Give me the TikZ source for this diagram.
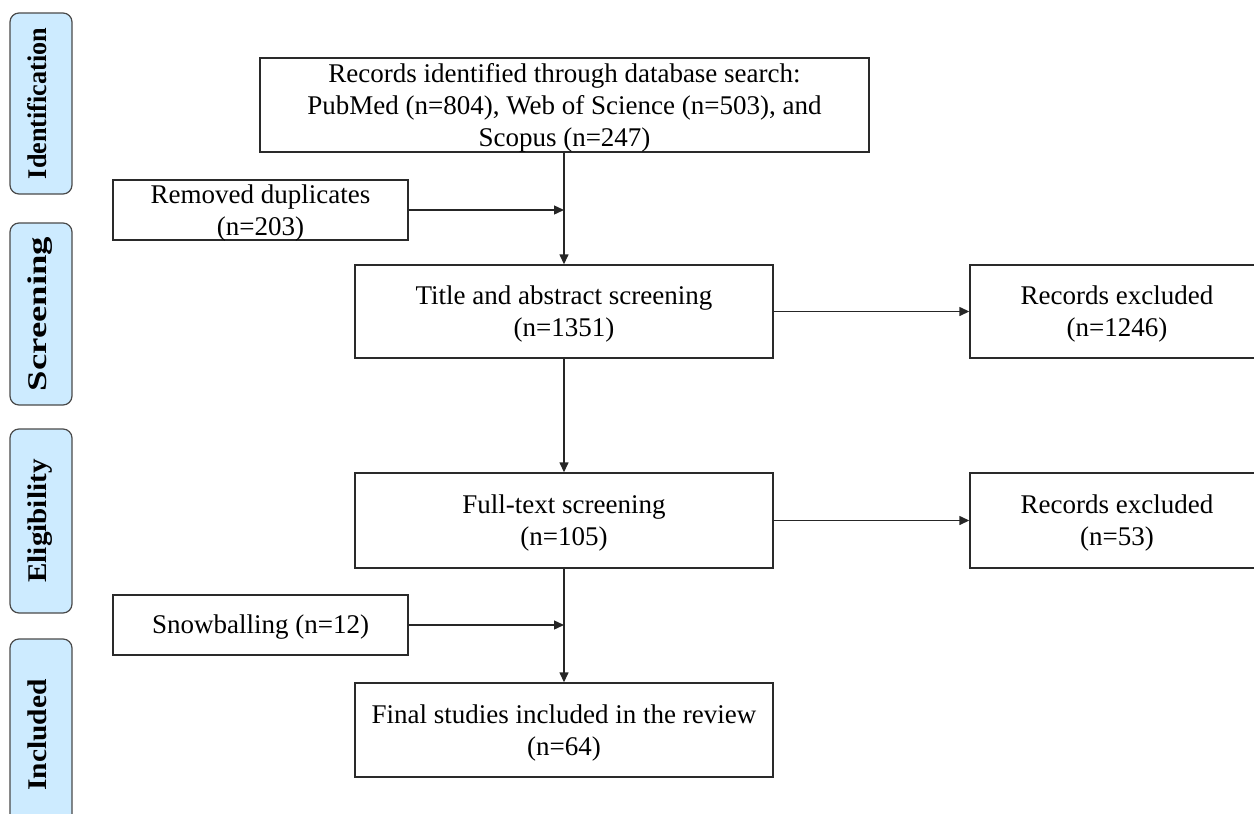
\documentclass[tikz,border=0pt]{standalone}
\usepackage{fontspec}
\setmainfont{Liberation Serif}
\usetikzlibrary{arrows.meta}
\definecolor{phasefill}{HTML}{CDEBFF}
\definecolor{phasedraw}{HTML}{4A4A4A}
\definecolor{boxdraw}{HTML}{2A2A2A}
\newcommand{\ptxt}[2]{\scalebox{#1}[1]{\fontsize{27}{27}\selectfont\bfseries #2}}
\begin{document}
\begin{tikzpicture}[x=1pt,y=-1pt,
  flowbox/.style={draw=boxdraw, line width=1.4pt, inner sep=0pt},
  boxtext/.style={inner sep=0pt, align=center, font=\fontsize{27}{32}\selectfont},
  phase/.style={draw=phasedraw, fill=phasefill, line width=1.2pt, rounded corners=9pt,
    inner sep=0pt, rotate=90, minimum height=62pt, text height=18pt, text depth=8pt},
  conn/.style={draw=black!85, line width=1.4pt},
  arr/.style={conn, -{Triangle[length=10pt,width=9pt]}}]
\useasboundingbox (0,0) rectangle (1254,814);
\clip (0,0) rectangle (1254,814);
% phase labels
\node[phase, minimum width=181pt] (pid) at (41,103.5) {\ptxt{0.97}{Identification}};
\node[phase, minimum width=182pt] (psc) at (41,314) {\ptxt{1.36}{Screening}};
\node[phase, minimum width=184pt] (pel) at (41,521) {\ptxt{1.08}{Eligibility}};
\node[phase, minimum width=192pt] (pin) at (41,735) {\ptxt{1.09}{Included}};
% boxes
\node[flowbox, minimum width=609pt, minimum height=94pt] (top) at (564.5,105) {};
\node[flowbox, minimum width=295pt, minimum height=60pt] (dup) at (260.5,210) {};
\node[flowbox, minimum width=418pt, minimum height=93pt] (title) at (564,311.5) {};
\node[flowbox, minimum width=294pt, minimum height=93pt] (ex1) at (1117,311.5) {};
\node[flowbox, minimum width=418pt, minimum height=95pt] (full) at (564,520.5) {};
\node[flowbox, minimum width=294pt, minimum height=95pt] (ex2) at (1117,520.5) {};
\node[flowbox, minimum width=295pt, minimum height=60pt] (snow) at (260.5,625) {};
\node[flowbox, minimum width=418pt, minimum height=94pt] (final) at (564,730) {};
% box texts
\node[boxtext] (topT) at ([yshift=-3pt]top.center)
  {Records identified through database search:\\PubMed (n=804), Web of Science (n=503), and\\Scopus (n=247)};
\node[boxtext] (dupT) at ([yshift=-3pt]dup.center) {Removed duplicates\\(n=203)};
\node[boxtext] (titleT) at ([yshift=-3pt]title.center) {Title and abstract screening\\(n=1351)};
\node[boxtext] (ex1T) at ([yshift=-3pt]ex1.center) {Records excluded\\(n=1246)};
\node[boxtext] (fullT) at ([yshift=-3pt]full.center) {Full-text screening\\(n=105)};
\node[boxtext] (ex2T) at ([yshift=-3pt]ex2.center) {Records excluded\\(n=53)};
\node[boxtext] (snowT) at ([yshift=-2pt]snow.center) {Snowballing (n=12)};
\node[boxtext] (finalT) at ([yshift=-3pt]final.center) {Final studies included in the review\\(n=64)};
% junctions
\coordinate (j1) at (title.north |- dup.east);
\coordinate (j2) at (final.north |- snow.east);
% connectors
\draw[arr] (title.north |- top.south) -- (title.north);
\draw[arr] (dup.east) -- (j1);
\draw[arr] (title.east) -- (ex1.west);
\draw[arr] (title.south) -- (full.north);
\draw[arr] (full.east) -- (ex2.west);
\draw[arr] (full.south) -- (final.north);
\draw[arr] (snow.east) -- (j2);
\end{tikzpicture}
\end{document}
